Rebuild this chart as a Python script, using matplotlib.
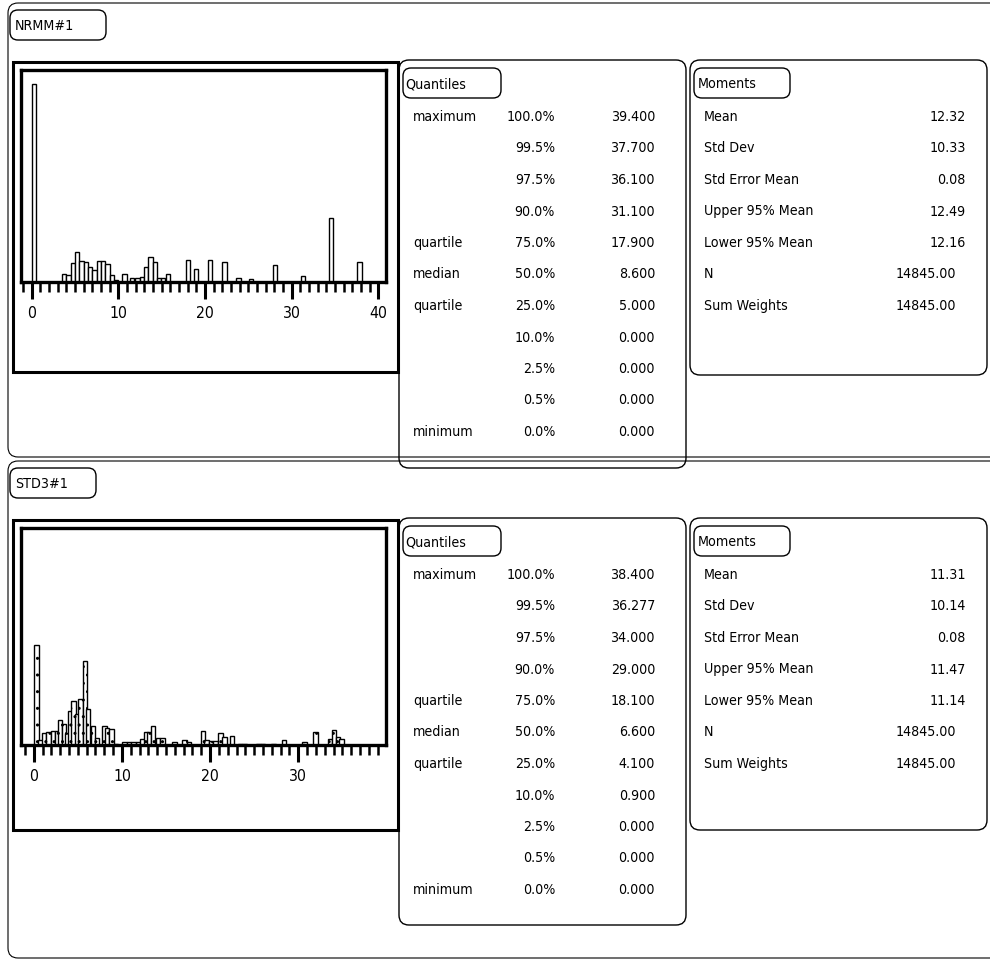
import matplotlib
matplotlib.use("Agg")
import matplotlib.pyplot as plt
from matplotlib import font_manager as fm
from matplotlib.patches import FancyBboxPatch, Rectangle
from matplotlib.ticker import MultipleLocator

W, H = 990, 965

# histogram bins (bin centre, count) for each variable
nrmm_bins = [0.25, 3.75, 4.25, 4.75, 5.25, 5.75, 6.25, 6.75, 7.25, 7.75, 8.25, 8.75,
             9.25, 9.75, 10.7, 11.55, 12.2, 12.7, 13.2, 13.7, 14.2, 14.7, 15.15,
             15.75, 18.0, 18.95, 20.6, 22.25, 23.85, 25.3, 28.1, 31.35, 34.55, 37.85]
nrmm_counts = [4130, 175, 154, 406, 630, 434, 420, 315, 245, 434, 434, 385,
               154, 35, 175, 84, 84, 105, 315, 525, 420, 84, 91,
               175, 455, 280, 455, 420, 91, 70, 364, 126, 1330, 420]

std3_bins = [0.3, 0.75, 1.15, 1.65, 2.15, 2.6, 3.0, 3.4, 3.8, 4.15, 4.5, 4.9, 5.3,
             5.8, 6.15, 6.7, 7.2, 8.0, 8.3, 8.8, 9.3, 10.3, 10.8, 11.3, 11.8, 12.35,
             12.75, 13.1, 13.55, 14.1, 14.6, 15.95, 17.1, 17.6, 19.2, 19.6, 20.1,
             20.6, 21.2, 21.65, 22.5, 23.4, 23.9, 25.5, 26.0, 27.2, 28.4, 30.7,
             31.95, 33.6, 34.05, 34.5, 34.9]
std3_counts = [1710, 90, 198, 216, 234, 234, 432, 360, 198, 576, 756, 540, 792,
               1440, 612, 324, 126, 324, 288, 270, 18, 54, 54, 54, 54, 108,
               216, 216, 324, 126, 126, 54, 90, 54, 234, 90, 72,
               72, 198, 144, 162, 18, 18, 18, 18, 18, 90, 54,
               216, 108, 252, 144, 108]

quantile_names = ['maximum', '', '', '', 'quartile', 'median', 'quartile', '', '', '', 'minimum']
quantile_levels = ['100.0%', '99.5%', '97.5%', '90.0%', '75.0%', '50.0%',
                   '25.0%', '10.0%', '2.5%', '0.5%', '0.0%']
nrmm_quantiles = ['39.400', '37.700', '36.100', '31.100', '17.900', '8.600',
                  '5.000', '0.000', '0.000', '0.000', '0.000']
std3_quantiles = ['38.400', '36.277', '34.000', '29.000', '18.100', '6.600',
                  '4.100', '0.900', '0.000', '0.000', '0.000']

moment_names = ['Mean', 'Std Dev', 'Std Error Mean', 'Upper 95% Mean',
                'Lower 95% Mean', 'N', 'Sum Weights']
nrmm_moments = ['12.32', '10.33', '0.08', '12.49', '12.16', '14845.00', '14845.00']
std3_moments = ['11.31', '10.14', '0.08', '11.47', '11.14', '14845.00', '14845.00']


def pick_font():
    # prefer a narrow sans face, fall back to the regular one
    for f in fm.fontManager.ttflist:
        if f.name == 'Liberation Sans Narrow' and f.style == 'normal' and f.weight in (400, 'normal'):
            return fm.FontProperties(fname=f.fname)
    for f in fm.fontManager.ttflist:
        fn = f.fname.lower()
        if ('notosans-condensed.' in fn or 'dejavusanscondensed.' in fn
                or 'notosans-semicondensed.' in fn):
            return fm.FontProperties(fname=f.fname)
    return fm.FontProperties(family='Liberation Sans')


FP = pick_font()

fig = plt.figure(figsize=(W / 100, H / 100), dpi=100)
fig.patch.set_facecolor('white')
canvas = fig.add_axes([0, 0, 1, 1])
canvas.set_xlim(0, W)
canvas.set_ylim(H, 0)
canvas.axis('off')

# size the font so that "maximum" is about 64 px wide
renderer = fig.canvas.get_renderer()
probe = canvas.text(0, 0, 'maximum', fontproperties=FP, fontsize=10)
FS = 10 * 64 / probe.get_window_extent(renderer).width
probe.remove()


def txt(x, y, s, ha='left'):
    canvas.text(x, y, s, fontproperties=FP, fontsize=FS, va='center', ha=ha)


def rbox(x0, y0, x1, y1, r=9, lw=1.0):
    canvas.add_patch(FancyBboxPatch((x0, y0), x1 - x0, y1 - y0,
                                    boxstyle=f"round,pad=0,rounding_size={r}",
                                    fc='none', ec='black', lw=lw))


def px_axes(x0, y0, x1, y1):
    return fig.add_axes([x0 / W, 1 - y1 / H, (x1 - x0) / W, (y1 - y0) / H])


def panel(top, bottom, title, bins, counts, ymax, xmin, xmax, hatch,
          q_vals, m_vals, plot_bottom, frame_bottom, q_bottom, m_bottom):
    o = top
    rbox(8, top, 1010, bottom, r=10, lw=0.8)
    rbox(10, o + 7, 106 if title == 'NRMM#1' else 96, o + 37, r=8)
    txt(15, o + 23, title)

    # histogram
    canvas.add_patch(Rectangle((13, o + 59), 385, frame_bottom - (o + 59),
                               fc='none', ec='black', lw=2.2))
    ax = px_axes(21, o + 67, 386, plot_bottom)
    ax.bar(bins, counts, width=0.5, facecolor='white', edgecolor='black',
           linewidth=1.0, hatch=hatch)
    ax.set_xlim(xmin, xmax)
    ax.set_ylim(0, ymax)
    ax.set_yticks([])
    for s in ax.spines.values():
        s.set_linewidth(2.4)
    ax.xaxis.set_major_locator(MultipleLocator(10))
    ax.xaxis.set_minor_locator(MultipleLocator(1))
    ax.tick_params(axis='x', which='major', length=12, width=2.2, pad=5)
    ax.tick_params(axis='x', which='minor', length=7, width=1.8)
    for lab in ax.get_xticklabels():
        lab.set_fontproperties(FP)
        lab.set_fontsize(FS * 1.12)

    # quantiles
    rbox(399, o + 57, 686, q_bottom, r=10)
    rbox(403, o + 65, 501, o + 95, r=8)
    txt(405, o + 81, 'Quantiles')
    for i in range(len(quantile_levels)):
        y = o + 114 + i * 31.5
        txt(413, y, quantile_names[i])
        txt(555, y, quantile_levels[i], ha='right')
        txt(655, y, q_vals[i], ha='right')

    # moments
    rbox(690, o + 57, 987, m_bottom, r=10)
    rbox(694, o + 65, 790, o + 95, r=8)
    txt(698, o + 81, 'Moments')
    for i in range(len(moment_names)):
        y = o + 114 + i * 31.5
        txt(704, y, moment_names[i])
        txt(966 if i < 5 else 956, y, m_vals[i], ha='right')


panel(3, 457, 'NRMM#1', nrmm_bins, nrmm_counts, 4425, -1.25, 40.9, None,
      nrmm_quantiles, nrmm_moments, 282, 372, 468, 375)
panel(461, 958, 'STD3#1', std3_bins, std3_counts, 3726, -1.45, 39.95, '..',
      std3_quantiles, std3_moments, 745, 830, 925, 830)

fig.savefig('out.png', dpi=100, facecolor='white')
